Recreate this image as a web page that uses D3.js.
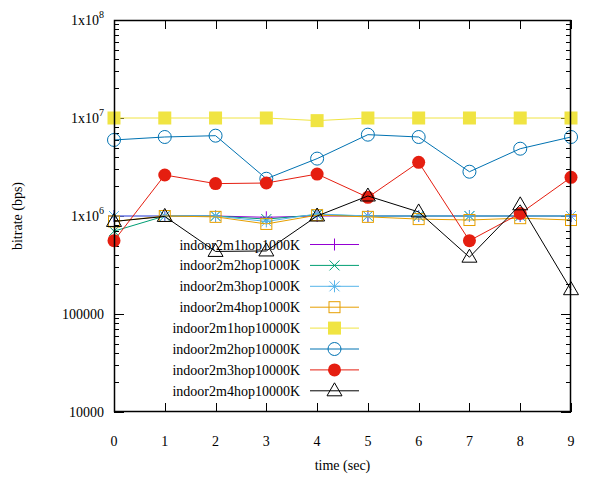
<!DOCTYPE html>
<html><head><meta charset="utf-8">
<script src="https://cdn.jsdelivr.net/npm/d3@7"></script>
<style>body{margin:0;background:#fff}svg{display:block}</style>
</head><body><svg id="c" width="600" height="480" font-family="'Liberation Serif', 'Times New Roman', serif" font-size="14"></svg>
<script>
const times = [0,1,2,3,4,5,6,7,8,9];
const seriesNames = ["indoor2m1hop1000K","indoor2m2hop1000K","indoor2m3hop1000K","indoor2m4hop1000K",
  "indoor2m1hop10000K","indoor2m2hop10000K","indoor2m3hop10000K","indoor2m4hop10000K"];
const s1hop1000K  = [1.0e6,1.0e6,1.0e6,0.97e6,1.0e6,1.0e6,1.0e6,1.0e6,1.0e6,1.0e6];
const s2hop1000K  = [7.0e5,1.0e6,1.0e6,0.93e6,1.03e6,1.0e6,1.0e6,1.0e6,1.0e6,1.0e6];
const s3hop1000K  = [1.0e6,1.0e6,1.0e6,0.88e6,1.05e6,1.0e6,1.0e6,1.0e6,1.0e6,1.0e6];
const s4hop1000K  = [8.8e5,1.0e6,0.98e6,8.3e5,1.02e6,0.98e6,0.93e6,0.91e6,0.95e6,0.91e6];
const s1hop10000K = [1.0e7,1.0e7,1.0e7,1.0e7,9.4e6,1.0e7,1.0e7,1.0e7,1.0e7,1.0e7];
const s2hop10000K = [5.97e6,6.4e6,6.6e6,2.4e6,3.85e6,6.76e6,6.4e6,2.83e6,4.86e6,6.4e6];
const s3hop10000K = [5.6e5,2.62e6,2.14e6,2.17e6,2.68e6,1.55e6,3.53e6,5.6e5,1.06e6,2.48e6];
const s4hop10000K = [8.8e5,9.9e5,4.35e5,4.4e5,1.0e6,1.6e6,1.1e6,3.8e5,1.3e6,1.77e5];
const yTickValues = [1e4,1e5,1e6,1e7,1e8];
const yTickLabels = [["10000",""],["100000",""],["1x10","6"],["1x10","7"],["1x10","8"]];
const xLabel = "time (sec)", yLabel = "bitrate (bps)";

const allSeries = [s1hop1000K,s2hop1000K,s3hop1000K,s4hop1000K,s1hop10000K,s2hop10000K,s3hop10000K,s4hop10000K];
const colors = ["#9400d3","#009e73","#56b4e9","#e69f00","#f0e442","#0072b2","#e51e10","#000000"];
const markers = ["plus","cross","star","osquare","fsquare","ocircle","fcircle","otriangle"];

const L=114,R=571,T=20,B=412;
const svg = d3.select("#c");
const x = d3.scaleLinear().domain([0,9]).range([L,R]);
const y = d3.scaleLog().domain([1e4,1e8]).range([B,T]);

const minor=[];
for(let e=4;e<8;e++) for(let k=2;k<=9;k++) minor.push(k*Math.pow(10,e));
const tg = svg.append("g").attr("stroke","#000").attr("stroke-width",1);
minor.forEach(v=>{const yy=Math.round(y(v))+0.5;
  tg.append("line").attr("x1",L).attr("x2",L+5).attr("y1",yy).attr("y2",yy);
  tg.append("line").attr("x1",R).attr("x2",R-5).attr("y1",yy).attr("y2",yy);});
yTickValues.forEach(v=>{const yy=Math.round(y(v))+0.5;
  tg.append("line").attr("x1",L).attr("x2",L+10).attr("y1",yy).attr("y2",yy);
  tg.append("line").attr("x1",R).attr("x2",R-10).attr("y1",yy).attr("y2",yy);});
times.forEach(t=>{const xx=Math.round(x(t))+0.5;
  tg.append("line").attr("x1",xx).attr("x2",xx).attr("y1",B).attr("y2",B-9);
  tg.append("line").attr("x1",xx).attr("x2",xx).attr("y1",T).attr("y2",T+9);});

yTickValues.forEach((v,i)=>{
  const t=svg.append("text").attr("x",104).attr("y",y(v)+5).attr("text-anchor","end");
  t.append("tspan").text(yTickLabels[i][0]);
  if(yTickLabels[i][1]) t.append("tspan").attr("dy",-7).attr("font-size","10").text(yTickLabels[i][1]);
});
times.forEach(t=>svg.append("text").attr("x",x(t)).attr("y",446).attr("text-anchor","middle").text(t));
svg.append("text").attr("x",x(4.5)).attr("y",470).attr("text-anchor","middle").text(xLabel);
svg.append("text").attr("transform",`translate(22,${(T+B)/2}) rotate(-90)`).attr("text-anchor","middle").text(yLabel);

function marker(g,type,cx,cy,col){
  const s=g.append("g").attr("transform",`translate(${cx},${cy})`);
  switch(type){
    case "plus": s.append("path").attr("d","M-6,0H6M0,-6V6").attr("stroke",col).attr("fill","none"); break;
    case "cross": s.append("path").attr("d","M-5,-5L5,5M-5,5L5,-5").attr("stroke",col).attr("fill","none"); break;
    case "star": s.append("path").attr("d","M-6,0H6M0,-6V6M-5,-5L5,5M-5,5L5,-5").attr("stroke",col).attr("fill","none"); break;
    case "osquare": s.append("rect").attr("x",-5.5).attr("y",-5.5).attr("width",11).attr("height",11).attr("stroke",col).attr("fill","none"); break;
    case "fsquare": s.append("rect").attr("x",-6.5).attr("y",-6.5).attr("width",13).attr("height",13).attr("fill",col); break;
    case "ocircle": s.append("circle").attr("r",6.5).attr("stroke",col).attr("fill","none"); break;
    case "fcircle": s.append("circle").attr("r",6.5).attr("fill",col); break;
    case "otriangle": s.append("path").attr("d","M0,-8L7.5,5L-7.5,5Z").attr("stroke",col).attr("fill","none"); break;
  }
}

const line = d3.line().x((d,i)=>x(times[i])).y(d=>y(d));
const legY0=244.5, legDy=20.9;
allSeries.forEach((vals,si)=>{
  const g=svg.append("g");
  const ly=legY0+si*legDy;
  g.append("text").attr("x",300).attr("y",ly+5).attr("text-anchor","end").text(seriesNames[si]);
  g.append("line").attr("x1",310).attr("x2",359).attr("y1",ly).attr("y2",ly).attr("stroke",colors[si]);
  marker(g,markers[si],334.5,ly,colors[si]);
  g.append("path").datum(vals).attr("d",line).attr("fill","none").attr("stroke",colors[si]).attr("stroke-width",1);
  vals.forEach((v,i)=>marker(g,markers[si],x(times[i]),y(v),colors[si]));
});

svg.append("rect").attr("x",L+0.5).attr("y",T+0.5).attr("width",R-L-1).attr("height",B-T-1)
  .attr("fill","none").attr("stroke","#000").attr("stroke-width",1.5);
</script></body></html>
